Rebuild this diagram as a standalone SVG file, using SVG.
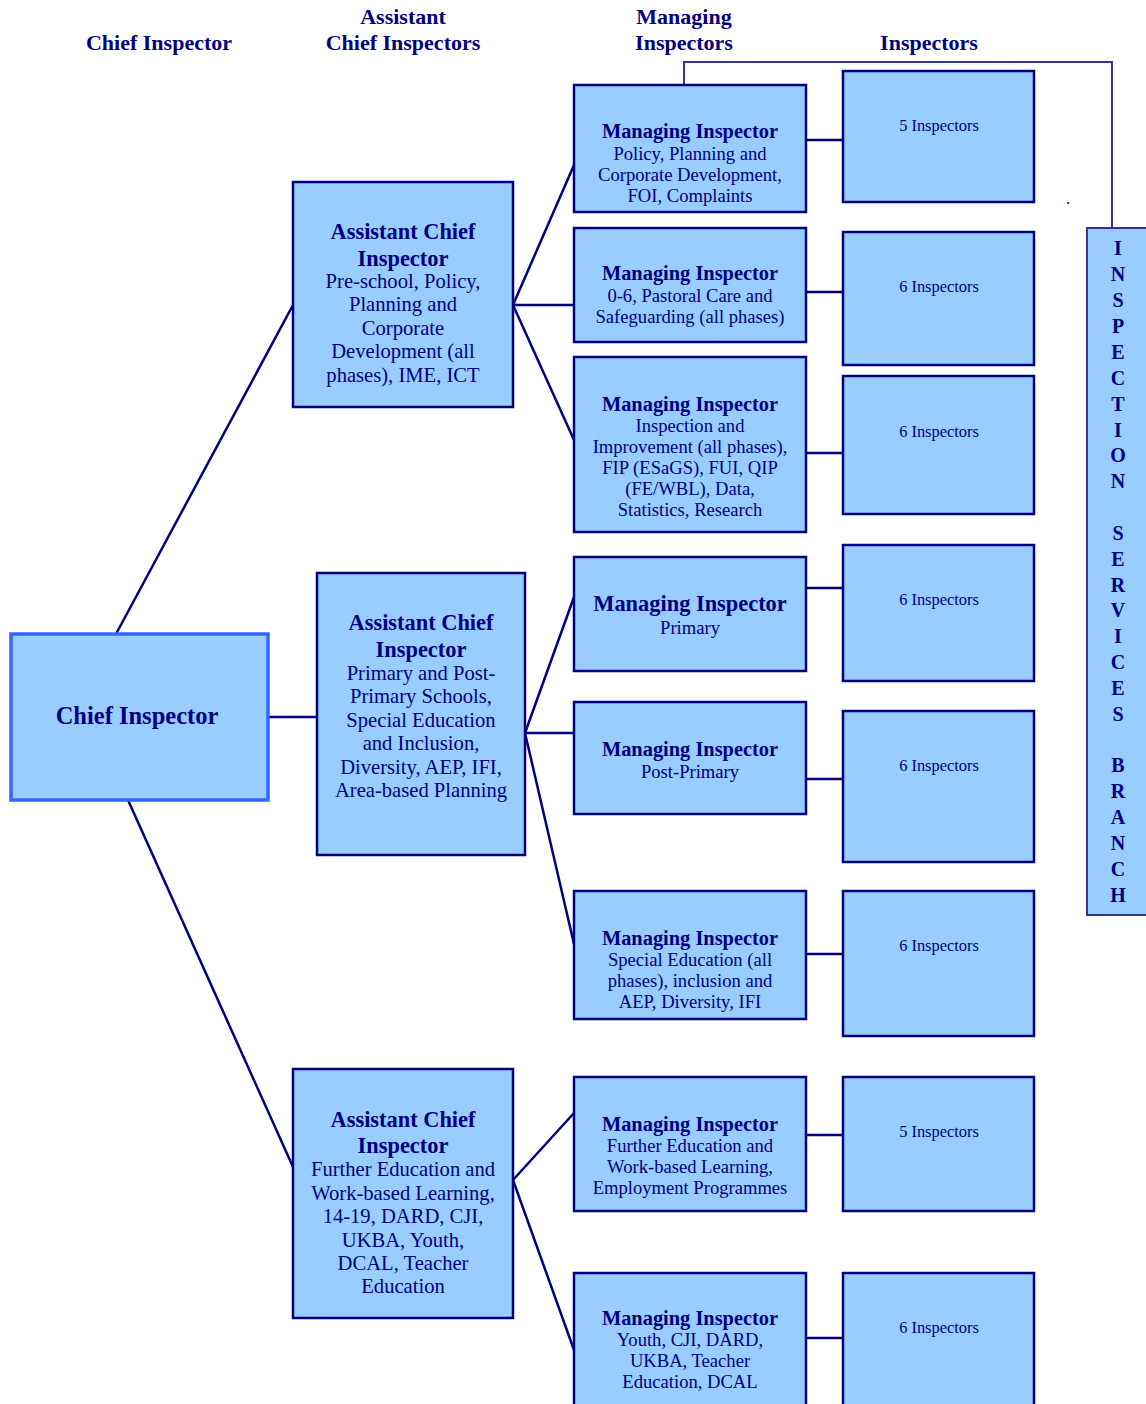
<svg xmlns="http://www.w3.org/2000/svg" width="1146" height="1404" viewBox="0 0 1146 1404">
<style>
text{font-family:"Liberation Serif","Times New Roman",serif;fill:#000080;text-anchor:middle}
.hd{font-size:22px;font-weight:bold}
.box{fill:#99CCFF;stroke:#000080;stroke-width:2.5}
.chief{fill:#99CCFF;stroke:#3366FF;stroke-width:3.5}
.branch{fill:#99CCFF;stroke:#333399;stroke-width:2}
.t{font-size:20.4px;font-weight:bold}
.b{font-size:18.6px}
.at{font-size:22.4px;font-weight:bold}
.ab{font-size:20.6px}
.ins{font-size:16.4px}
.lt{font-size:20px;font-weight:bold}
.ln{stroke:#000080;stroke-width:2.5;fill:none}
</style>
<rect width="1146" height="1404" fill="#ffffff"/>
<g id="headers">
<text class="hd" x="159" y="50">Chief Inspector</text>
<text class="hd" x="403" y="24">Assistant</text>
<text class="hd" x="403" y="50">Chief Inspectors</text>
<text class="hd" x="684" y="24">Managing</text>
<text class="hd" x="684" y="50">Inspectors</text>
<text class="hd" x="929" y="50">Inspectors</text>
</g>
<g id="connectors">
<path class="ln" d="M116 634L293 305M268 717H317M128 800L293 1167"/>
<path class="ln" d="M513 305L574 165M513 305H574M513 305L574 440"/>
<path class="ln" d="M525 733L574 597M525 733H574M525 733L574 944"/>
<path class="ln" d="M513 1180L574 1113M513 1180L574 1350"/>
<path class="ln" d="M806 140H843M806 292H843M806 453H843M806 588H843M806 779H843M806 954H843M806 1135H843M806 1338H843"/>
<path class="ln" d="M684 85V62H1112V228" style="stroke:#333399;stroke-width:2"/>
</g>
<g id="chief">
<rect class="chief" x="11" y="634" width="257" height="166"/>
<text class="at" x="137" y="724" style="font-size:24.5px">Chief Inspector</text>
</g>
<g id="aci1">
<rect class="box" x="293" y="182" width="220" height="225"/>
<text x="403"><tspan class="at" x="403" y="239">Assistant Chief</tspan><tspan class="at" x="403" y="266">Inspector</tspan><tspan class="ab" x="403" y="288">Pre-school, Policy,</tspan><tspan class="ab" x="403" y="311">Planning and</tspan><tspan class="ab" x="403" y="335">Corporate</tspan><tspan class="ab" x="403" y="358">Development (all</tspan><tspan class="ab" x="403" y="382">phases), IME, ICT</tspan></text>
</g>
<g id="aci2">
<rect class="box" x="317" y="573" width="208" height="282"/>
<text x="421"><tspan class="at" x="421" y="630">Assistant Chief</tspan><tspan class="at" x="421" y="657">Inspector</tspan><tspan class="ab" x="421" y="680">Primary and Post-</tspan><tspan class="ab" x="421" y="703">Primary Schools,</tspan><tspan class="ab" x="421" y="727">Special Education</tspan><tspan class="ab" x="421" y="750">and Inclusion,</tspan><tspan class="ab" x="421" y="774">Diversity, AEP, IFI,</tspan><tspan class="ab" x="421" y="797">Area-based Planning</tspan></text>
</g>
<g id="aci3">
<rect class="box" x="293" y="1069" width="220" height="249"/>
<text x="403"><tspan class="at" x="403" y="1127">Assistant Chief</tspan><tspan class="at" x="403" y="1153">Inspector</tspan><tspan class="ab" x="403" y="1176">Further Education and</tspan><tspan class="ab" x="403" y="1200">Work-based Learning,</tspan><tspan class="ab" x="403" y="1223">14-19, DARD, CJI,</tspan><tspan class="ab" x="403" y="1247">UKBA, Youth,</tspan><tspan class="ab" x="403" y="1270">DCAL, Teacher</tspan><tspan class="ab" x="403" y="1293">Education</tspan></text>
</g>
<g id="mi1">
<rect class="box" x="574" y="85" width="232" height="127"/>
<text x="690"><tspan class="t" x="690" y="138">Managing Inspector</tspan><tspan class="b" x="690" y="160">Policy, Planning and</tspan><tspan class="b" x="690" y="181">Corporate Development,</tspan><tspan class="b" x="690" y="202">FOI, Complaints</tspan></text>
</g>
<g id="mi2">
<rect class="box" x="574" y="228" width="232" height="114"/>
<text x="690"><tspan class="t" x="690" y="280">Managing Inspector</tspan><tspan class="b" x="690" y="302">0-6, Pastoral Care and</tspan><tspan class="b" x="690" y="323">Safeguarding (all phases)</tspan></text>
</g>
<g id="mi3">
<rect class="box" x="574" y="357" width="232" height="175"/>
<text x="690"><tspan class="t" x="690" y="411">Managing Inspector</tspan><tspan class="b" x="690" y="432">Inspection and</tspan><tspan class="b" x="690" y="453">Improvement (all phases),</tspan><tspan class="b" x="690" y="474">FIP (ESaGS), FUI, QIP</tspan><tspan class="b" x="690" y="495">(FE/WBL), Data,</tspan><tspan class="b" x="690" y="516">Statistics, Research</tspan></text>
</g>
<g id="mi4">
<rect class="box" x="574" y="557" width="232" height="114"/>
<text x="690"><tspan class="t" x="690" y="611" style="font-size:22.4px">Managing Inspector</tspan><tspan class="b" x="690" y="634">Primary</tspan></text>
</g>
<g id="mi5">
<rect class="box" x="574" y="702" width="232" height="112"/>
<text x="690"><tspan class="t" x="690" y="756">Managing Inspector</tspan><tspan class="b" x="690" y="778">Post-Primary</tspan></text>
</g>
<g id="mi6">
<rect class="box" x="574" y="891" width="232" height="128"/>
<text x="690"><tspan class="t" x="690" y="945">Managing Inspector</tspan><tspan class="b" x="690" y="966">Special Education (all</tspan><tspan class="b" x="690" y="987">phases), inclusion and</tspan><tspan class="b" x="690" y="1008">AEP, Diversity, IFI</tspan></text>
</g>
<g id="mi7">
<rect class="box" x="574" y="1077" width="232" height="134"/>
<text x="690"><tspan class="t" x="690" y="1131">Managing Inspector</tspan><tspan class="b" x="690" y="1152">Further Education and</tspan><tspan class="b" x="690" y="1173">Work-based Learning,</tspan><tspan class="b" x="690" y="1194">Employment Programmes</tspan></text>
</g>
<g id="mi8">
<rect class="box" x="574" y="1273" width="232" height="140"/>
<text x="690"><tspan class="t" x="690" y="1325">Managing Inspector</tspan><tspan class="b" x="690" y="1346">Youth, CJI, DARD,</tspan><tspan class="b" x="690" y="1367">UKBA, Teacher</tspan><tspan class="b" x="690" y="1388">Education, DCAL</tspan></text>
</g>
<g id="ins1"><rect class="box" x="843" y="71" width="191" height="131"/><text class="ins" x="939" y="131">5 Inspectors</text></g>
<g id="ins2"><rect class="box" x="843" y="232" width="191" height="133"/><text class="ins" x="939" y="292">6 Inspectors</text></g>
<g id="ins3"><rect class="box" x="843" y="376" width="191" height="138"/><text class="ins" x="939" y="437">6 Inspectors</text></g>
<g id="ins4"><rect class="box" x="843" y="545" width="191" height="136"/><text class="ins" x="939" y="605">6 Inspectors</text></g>
<g id="ins5"><rect class="box" x="843" y="711" width="191" height="151"/><text class="ins" x="939" y="771">6 Inspectors</text></g>
<g id="ins6"><rect class="box" x="843" y="891" width="191" height="145"/><text class="ins" x="939" y="951">6 Inspectors</text></g>
<g id="ins7"><rect class="box" x="843" y="1077" width="191" height="134"/><text class="ins" x="939" y="1137">5 Inspectors</text></g>
<g id="ins8"><rect class="box" x="843" y="1273" width="191" height="140"/><text class="ins" x="939" y="1333">6 Inspectors</text></g>
<text class="ins" x="1068" y="204">.</text>
<g id="branch">
<rect class="branch" x="1087" y="228" width="70" height="687"/>
<text class="lt"><tspan x="1118" y="255">I</tspan><tspan x="1118" y="281">N</tspan><tspan x="1118" y="307">S</tspan><tspan x="1118" y="333">P</tspan><tspan x="1118" y="359">E</tspan><tspan x="1118" y="385">C</tspan><tspan x="1118" y="411">T</tspan><tspan x="1118" y="437">I</tspan><tspan x="1118" y="462">O</tspan><tspan x="1118" y="488">N</tspan><tspan x="1118" y="540">S</tspan><tspan x="1118" y="566">E</tspan><tspan x="1118" y="592">R</tspan><tspan x="1118" y="617">V</tspan><tspan x="1118" y="643">I</tspan><tspan x="1118" y="669">C</tspan><tspan x="1118" y="695">E</tspan><tspan x="1118" y="721">S</tspan><tspan x="1118" y="772">B</tspan><tspan x="1118" y="798">R</tspan><tspan x="1118" y="824">A</tspan><tspan x="1118" y="850">N</tspan><tspan x="1118" y="876">C</tspan><tspan x="1118" y="902">H</tspan></text>
</g>
</svg>
